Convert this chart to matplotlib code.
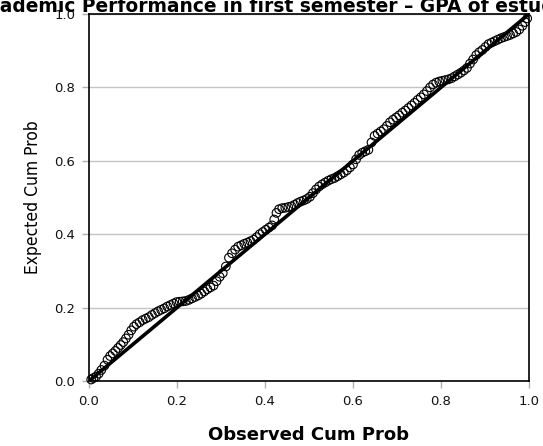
import matplotlib
matplotlib.use('Agg')
import matplotlib.pyplot as plt

# observed / expected cumulative probabilities
observed = [0.005, 0.010, 0.016, 0.022, 0.028, 0.035, 0.042, 0.048, 0.054, 0.060,
            0.066, 0.072, 0.078, 0.084, 0.090, 0.096, 0.102, 0.108, 0.115, 0.122,
            0.129, 0.136, 0.143, 0.150, 0.157, 0.164, 0.171, 0.178, 0.185, 0.192,
            0.199, 0.206, 0.213, 0.220, 0.227, 0.234, 0.241, 0.248, 0.255, 0.262,
            0.269, 0.276, 0.283, 0.290, 0.297, 0.304, 0.311, 0.318, 0.325, 0.332,
            0.339, 0.346, 0.353, 0.360, 0.367, 0.374, 0.381, 0.388, 0.395, 0.402,
            0.409, 0.416, 0.421, 0.426, 0.432, 0.439, 0.446, 0.453, 0.460, 0.467,
            0.474, 0.481, 0.488, 0.495, 0.502, 0.509, 0.516, 0.523, 0.530, 0.537,
            0.544, 0.551, 0.558, 0.565, 0.572, 0.579, 0.586, 0.593, 0.600, 0.607,
            0.614, 0.621, 0.628, 0.635, 0.642, 0.649, 0.656, 0.663, 0.670, 0.677,
            0.684, 0.691, 0.698, 0.705, 0.712, 0.719, 0.726, 0.733, 0.740, 0.747,
            0.754, 0.761, 0.768, 0.775, 0.782, 0.789, 0.796, 0.803, 0.810, 0.817,
            0.824, 0.831, 0.838, 0.845, 0.852, 0.859, 0.866, 0.873, 0.880, 0.887,
            0.894, 0.901, 0.908, 0.915, 0.922, 0.929, 0.936, 0.943, 0.950, 0.957,
            0.964, 0.971, 0.978, 0.985, 0.991, 0.996]
expected = [0.004, 0.008, 0.012, 0.020, 0.030, 0.042, 0.058, 0.068, 0.075, 0.082,
            0.090, 0.098, 0.106, 0.116, 0.126, 0.138, 0.148, 0.155, 0.160, 0.166,
            0.170, 0.174, 0.180, 0.185, 0.190, 0.194, 0.198, 0.203, 0.207, 0.211,
            0.215, 0.216, 0.217, 0.218, 0.221, 0.225, 0.229, 0.233, 0.238, 0.244,
            0.250, 0.255, 0.260, 0.272, 0.284, 0.294, 0.312, 0.336, 0.348, 0.358,
            0.366, 0.370, 0.374, 0.377, 0.381, 0.385, 0.392, 0.400, 0.406, 0.412,
            0.418, 0.424, 0.440, 0.458, 0.468, 0.471, 0.472, 0.474, 0.476, 0.480,
            0.485, 0.489, 0.492, 0.496, 0.502, 0.512, 0.522, 0.530, 0.536, 0.541,
            0.546, 0.550, 0.553, 0.558, 0.563, 0.568, 0.574, 0.582, 0.590, 0.604,
            0.616, 0.622, 0.626, 0.630, 0.650, 0.668, 0.674, 0.680, 0.686, 0.695,
            0.705, 0.712, 0.718, 0.724, 0.731, 0.737, 0.744, 0.751, 0.758, 0.766,
            0.773, 0.781, 0.790, 0.800, 0.808, 0.813, 0.816, 0.818, 0.820, 0.822,
            0.825, 0.830, 0.835, 0.840, 0.846, 0.853, 0.865, 0.876, 0.888, 0.896,
            0.902, 0.910, 0.918, 0.922, 0.926, 0.930, 0.934, 0.937, 0.940, 0.943,
            0.947, 0.951, 0.958, 0.968, 0.978, 0.988]
ref_line = [0.0, 1.0]
ticks = [0.0, 0.2, 0.4, 0.6, 0.8, 1.0]
tick_labels = ['0.0', '0.2', '0.4', '0.6', '0.8', '1.0']

title = 'Normal P-P Plot of Academic Performance in first semester \u2013 GPA of estudents'
title_prefix = 'Normal P-P Plot of Ac'
title_visible = 'ademic Performance in first semester \u2013 GPA of estu'

fig = plt.figure(figsize=(5.43, 4.46), dpi=100)
ax = fig.add_axes([89 / 543, 1 - 381 / 446, 440 / 543, 367 / 446])

ax.set_xlim(0, 1)
ax.set_ylim(0, 1)
ax.set_yticks(ticks)
ax.set_yticklabels(tick_labels)
ax.set_xticks(ticks)
ax.set_xticklabels(tick_labels)
ax.grid(axis='y', color='#c4c4c4', linewidth=1.0)
ax.set_axisbelow(True)
ax.tick_params(axis='both', direction='out', length=5, width=1, color='#b0b0b0',
               labelsize=9.5, labelcolor='#111111', pad=5)
ax.tick_params(top=False, right=False)
for s in ax.spines.values():
    s.set_color('black')
    s.set_linewidth(1.2)

ax.plot(ref_line, ref_line, color='black', linewidth=2.6, zorder=3)
ax.scatter(observed, expected, s=38, facecolors='none', edgecolors='black',
           linewidths=0.8, zorder=4, clip_on=False)

ax.set_xlabel('Observed Cum Prob', fontsize=13, fontweight='bold', labelpad=13)
ax.set_ylabel('Expected Cum Prob', fontsize=12.5, family='DejaVu Sans',
              fontstretch='condensed', labelpad=9)

# title is wider than the figure: size it and shift it so the cut-off matches
r = fig.canvas.get_renderer()
tmp = fig.text(0, 0, title_visible, fontsize=10, fontweight='bold')
fs = 10 * 543 / tmp.get_window_extent(renderer=r).width
tmp.remove()
tmp = fig.text(0, 0, title_prefix, fontsize=fs, fontweight='bold')
w = tmp.get_window_extent(renderer=r).width
tmp.remove()
fig.text(-w / 543, 1 - 12 / 446, title, fontsize=fs, fontweight='bold', ha='left',
         va='baseline')

fig.savefig('out.png', dpi=100)
